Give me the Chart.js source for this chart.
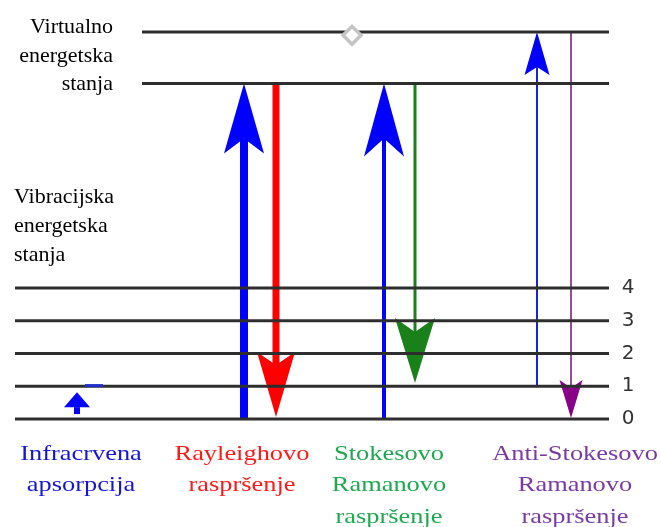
<!DOCTYPE html>
<html>
<head>
<meta charset="utf-8">
<script src="https://cdn.jsdelivr.net/npm/chart.js@4.4.1/dist/chart.umd.min.js"></script>
<style>
  body { margin: 0; background: #fff; }
  canvas { display: block; }
</style>
</head>
<body>
<canvas id="diagram" width="661" height="527"></canvas>
<script>
// Vibracijski nivoi (energija u jedinicama razmaka nivoa)
const nivoi = [0, 1, 2, 3, 4];
const oznakeNivoa = ["0", "1", "2", "3", "4"];
// Virtualna energetska stanja
const virtualniNivoi = [10.25, 11.82];

// Prijelazi (strelice): položaj na x osi, početna i krajnja energija
const prijelazX = [77, 244, 276, 384, 415, 537, 571];
const prijelazOd = [0.15, 0, 10.25, 0, 10.25, 1, 11.82];
const prijelazDo = [0.82, 10.25, 0.06, 10.25, 1.1, 11.82, 0.03];

// Natpisi procesa ispod dijagrama
const procesi = [
  ["Infracrvena", "apsorpcija"],
  ["Rayleighovo", "raspršenje"],
  ["Stokesovo", "Ramanovo", "raspršenje"],
  ["Anti-Stokesovo", "Ramanovo", "raspršenje"],
];
const procesiX = [81, 242, 389, 575];
const procesiBoje = ["#1515d5", "#ff1a1a", "#1fa84f", "#7a3aa6"];

// Stil strelica: boja tijela, boja glave, debljina, duljina glave, dubina ureza, pola širine glave
const stilStrelica = [
  { boja: "#0000ff", glava: "#0000ff", debljina: 6, duljina: 15, urez: 15, pola: 13 },
  { boja: "#0000ff", glava: "#0000ff", debljina: 8, duljina: 70, urez: 55, pola: 20 },
  { boja: "#ff0000", glava: "#ff0000", debljina: 7, duljina: 65, urez: 52, pola: 19 },
  { boja: "#0000ff", glava: "#0000ff", debljina: 4, duljina: 73, urez: 55, pola: 20 },
  { boja: "#1a801a", glava: "#1a801a", debljina: 3, duljina: 65, urez: 51, pola: 20 },
  { boja: "#1f1fe0", glava: "#0000ff", debljina: 2, duljina: 43, urez: 35, pola: 12.5 },
  { boja: "#9a4a9a", glava: "#880088", debljina: 2, duljina: 38, urez: 30, pola: 11.5 },
];

const X_VIB_START = 15;
const X_VIRT_START = 142;
const X_KRAJ = 609;
const SERIF = '"Liberation Serif", "Times New Roman", Times, serif';

// Crta strelicu (tijelo + glava s urezom)
function crtajStrelicu(ctx, x, yRep, yVrh, s) {
  const smjer = yVrh < yRep ? 1 : -1;
  const yKrilo = yVrh + smjer * s.duljina;
  const yUrez = yVrh + smjer * s.urez;
  ctx.fillStyle = s.boja;
  ctx.fillRect(x - s.debljina / 2, Math.min(yRep, yUrez), s.debljina, Math.abs(yRep - yUrez));
  ctx.fillStyle = s.glava;
  ctx.beginPath();
  ctx.moveTo(x, yVrh);
  ctx.lineTo(x - s.pola, yKrilo);
  ctx.lineTo(x, yUrez);
  ctx.lineTo(x + s.pola, yKrilo);
  ctx.closePath();
  ctx.fill();
}

const dijagramPlugin = {
  id: "dijagram",
  // Strelice idu ispod linija nivoa
  beforeDatasetsDraw(chart) {
    const ctx = chart.ctx;
    const sx = chart.scales.x, sy = chart.scales.y;
    ctx.save();
    prijelazX.forEach(function (x, i) {
      crtajStrelicu(ctx, sx.getPixelForValue(x), sy.getPixelForValue(prijelazOd[i]),
        sy.getPixelForValue(prijelazDo[i]), stilStrelica[i]);
    });
    ctx.restore();
  },
  // Tekstovi
  afterDatasetsDraw(chart) {
    const ctx = chart.ctx;
    const sx = chart.scales.x, sy = chart.scales.y;
    ctx.save();
    ctx.fillStyle = "#000";
    ctx.font = "22px " + SERIF;
    ctx.textBaseline = "alphabetic";

    const yv = sy.getPixelForValue(virtualniNivoi[0]);
    ctx.textAlign = "right";
    ["Virtualno", "energetska", "stanja"].forEach(function (t, i) {
      ctx.fillText(t, 113, yv - 50 + i * 28.5);
    });

    const y4 = sy.getPixelForValue(nivoi[nivoi.length - 1]);
    ctx.textAlign = "left";
    ["Vibracijska", "energetska", "stanja"].forEach(function (t, i) {
      ctx.fillText(t, 14, y4 - 85 + i * 29);
    });

    // Brojevi nivoa desno
    ctx.font = '20px "DejaVu Sans", sans-serif';
    ctx.fillStyle = "#333";
    ctx.textAlign = "center";
    ctx.textBaseline = "middle";
    nivoi.forEach(function (n, i) {
      ctx.fillText(oznakeNivoa[i], 628, sy.getPixelForValue(n));
    });

    // Natpisi procesa
    const y0 = sy.getPixelForValue(0);
    ctx.font = "22px " + SERIF;
    ctx.textBaseline = "alphabetic";
    procesi.forEach(function (redovi, i) {
      ctx.fillStyle = procesiBoje[i];
      redovi.forEach(function (t, j) {
        ctx.save();
        ctx.translate(sx.getPixelForValue(procesiX[i]), y0 + 41 + j * 31.5);
        ctx.scale(1.2, 1);
        ctx.fillText(t, 0, 0);
        ctx.restore();
      });
    });
    ctx.restore();
  },
};

// Linije nivoa kao skupovi podataka
const linije = nivoi.map(function (n) {
  return { data: [{ x: X_VIB_START, y: n }, { x: X_KRAJ, y: n }] };
}).concat(virtualniNivoi.map(function (n) {
  return { data: [{ x: X_VIRT_START, y: n }, { x: X_KRAJ, y: n }] };
})).map(function (d) {
  return Object.assign(d, {
    showLine: true, borderColor: "#2e2e2e", borderWidth: 3, pointRadius: 0, order: 1,
  });
});

const datasets = linije.concat([
  // mala plava crtica kod IR apsorpcije
  { data: [{ x: 85, y: 1.02 }, { x: 103, y: 1.02 }], showLine: true, borderColor: "#2030c8",
    borderWidth: 3, pointRadius: 0, order: 0 },
  // sivi romb na gornjem virtualnom stanju
  { data: [{ x: 352, y: 11.72 }], pointStyle: "rectRot", pointRadius: 9, borderWidth: 3.5,
    borderColor: "#c4c4c4", backgroundColor: "#fff", order: 0 },
]);

new Chart(document.getElementById("diagram"), {
  type: "scatter",
  data: { datasets: datasets },
  options: {
    responsive: false,
    animation: false,
    devicePixelRatio: 1,
    layout: { padding: 0, autoPadding: false },
    scales: {
      x: { type: "linear", min: 0, max: 661, display: false },
      y: { type: "linear", min: -3.3, max: 12.8, display: false },
    },
    plugins: { legend: { display: false }, tooltip: { enabled: false } },
  },
  plugins: [dijagramPlugin],
});
</script>
</body>
</html>
